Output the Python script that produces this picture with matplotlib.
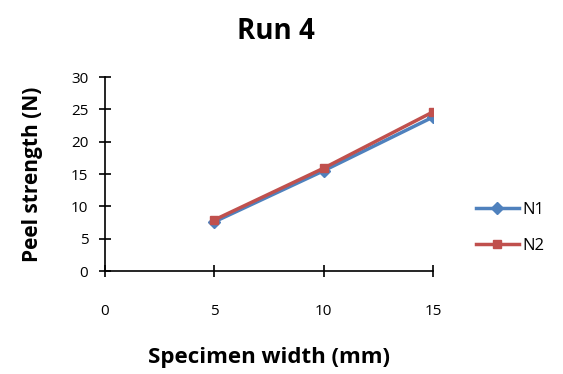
import matplotlib
matplotlib.use("Agg")
import matplotlib.pyplot as plt

# data
widths = [5, 10, 15]
n1 = [7.6, 15.5, 23.8]
n2 = [7.9, 15.9, 24.6]
series_names = ["N1", "N2"]

plt.rcParams['font.family'] = ['Open Sans', 'DejaVu Sans']

fig = plt.figure(figsize=(5.63, 3.74), dpi=100)
ax = fig.add_axes([0.1865, 0.2754, 0.5825, 0.5187])

ax.plot(widths, n1, color='#4F81BD', marker='D', markersize=6, linewidth=2.5, label=series_names[0])
ax.plot(widths, n2, color='#C0504D', marker='s', markersize=6, linewidth=2.5, label=series_names[1])

ax.set_xlim(0, 15)
ax.set_ylim(0, 30)
ax.set_xticks([0, 5, 10, 15])
ax.set_yticks(range(0, 31, 5))
ax.tick_params(direction='inout', length=8, width=1.2, labelsize=11, colors='black', pad=8)
ax.tick_params(axis='x', pad=20)
for s in ['top', 'right']:
    ax.spines[s].set_visible(False)
for s in ['left', 'bottom']:
    ax.spines[s].set_linewidth(1.2)

ax.set_xlabel("Specimen width (mm)", fontsize=16, fontweight='bold', labelpad=20)
ax.set_ylabel("Peel strength (N)", fontsize=15, fontweight='bold', labelpad=20)
fig.text(0.49, 0.915, "Run 4", fontsize=20, fontweight='bold', ha='center', va='center')

ax.legend(loc='center left', bbox_to_anchor=(1.085, 0.22), frameon=False, fontsize=12,
          handlelength=2.6, labelspacing=1.2, handletextpad=0.2)

fig.savefig("out.png", dpi=100)
